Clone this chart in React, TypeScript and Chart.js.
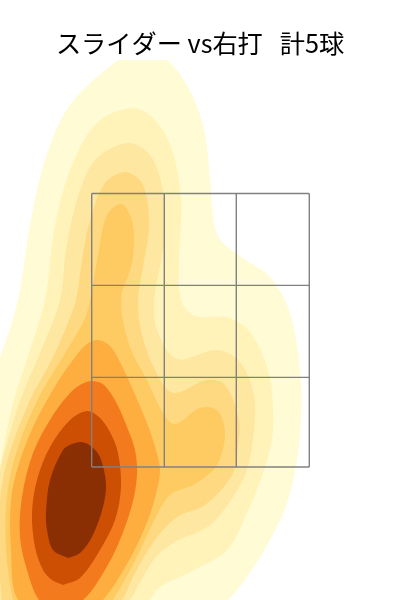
import React, { useEffect, useRef } from "react";
import { Chart, registerables } from "chart.js";

Chart.register(...registerables);

type P = [number, number];

const titleText = "スライダー vs右打   計5球";
const gridXs = [91.7, 164.3, 236.3, 309.3];
const gridYs = [193.4, 285.4, 377.4, 467];

const levelColors = ["#FFFBD4", "#FFF3B9", "#FEE7A0", "#FED981", "#FECB63", "#FEAE3F", "#F47B1D", "#CD4F04", "#8A2F04"];

const level1: P[] = [[-30, 640], [-30, 430], [0, 357], [18, 300], [30, 225], [45, 160], [70, 105], [118, 60], [142, 50], [167, 60], [188, 87], [203, 125], [210, 177], [212, 207], [219, 238], [243, 258], [268, 275], [285, 300], [295, 333], [301, 383], [301, 417], [297, 460], [287, 503], [270, 540], [247, 577], [228, 600], [200, 625]];
const level2: P[] = [[-20, 640], [-12, 540], [0, 467], [13, 403], [30, 350], [45, 300], [55, 225], [72, 165], [98, 122], [133, 108], [155, 120], [172, 150], [181, 200], [179, 260], [181, 300], [195, 316], [227, 317], [250, 332], [268, 370], [273, 407], [272, 440], [263, 473], [247, 513], [227, 550], [190, 572], [160, 587], [150, 600], [130, 625]];
const level3: P[] = [[-10, 640], [-4, 560], [0, 473], [10, 433], [23, 393], [40, 353], [60, 300], [66, 250], [77, 200], [95, 160], [128, 143], [150, 155], [163, 190], [165, 233], [160, 267], [154, 300], [157, 330], [177, 359], [217, 350], [240, 362], [254, 395], [254, 430], [247, 470], [233, 497], [210, 525], [173, 543], [155, 558], [143, 577], [130, 600], [110, 625]];
const level4: P[] = [[5, 640], [-1, 560], [0, 500], [8, 458], [30, 400], [50, 363], [65, 330], [76, 300], [82, 260], [90, 220], [105, 183], [126, 172], [143, 185], [149, 225], [143, 267], [138, 300], [142, 335], [156, 372], [173, 393], [207, 380], [225, 385], [239, 420], [238, 445], [232, 475], [205, 505], [177, 517], [155, 540], [133, 577], [122, 600], [100, 625]];
const level5: P[] = [[25, 640], [13, 600], [6, 550], [7, 495], [18, 447], [40, 395], [67, 350], [85, 318], [91, 295], [98, 255], [107, 215], [122, 204], [133, 225], [132, 263], [121, 300], [130, 347], [147, 380], [163, 413], [175, 424], [200, 408], [217, 410], [225, 433], [217, 465], [195, 484], [170, 495], [153, 523], [137, 557], [113, 600], [95, 625]];
const level6: P[] = [[60, 630], [18, 600], [11, 550], [11, 500], [18, 467], [33, 427], [57, 383], [76, 356], [87, 344], [98, 340], [110, 346], [120, 362], [130, 383], [147, 423], [156, 450], [160, 470], [157, 490], [148, 520], [133, 553], [113, 587], [103, 600], [85, 622]];
const level7: P[] = [[60, 616], [39, 600], [27, 570], [20, 537], [22, 497], [33, 453], [53, 415], [72, 391], [84, 383], [93, 381], [104, 385], [116, 402], [127, 427], [135, 450], [137, 475], [132, 505], [117, 547], [97, 583], [83, 600]];
const level8: P[] = [[63, 585], [52, 580], [43, 570], [35, 547], [32, 513], [37, 480], [50, 447], [70, 420], [87, 411], [99, 417], [110, 432], [118, 453], [121, 487], [115, 520], [100, 550], [80, 578]];
const level9: P[] = [[68, 558], [53, 550], [47, 530], [46, 513], [50, 480], [63, 450], [72, 444], [82, 442], [92, 447], [100, 457], [106, 483], [103, 507], [92, 537], [80, 553]];

const contours = [level1, level2, level3, level4, level5, level6, level7, level8, level9];

export default function App() {
  const ref = useRef<HTMLCanvasElement>(null);
  useEffect(() => {
    const contourSets = contours.map((pts, i) => ({
      data: [...pts, pts[0]].map(([x, y]) => ({ x, y })),
      showLine: true,
      fill: "shape",
      backgroundColor: levelColors[i],
      borderWidth: 0,
      borderColor: "transparent",
      pointRadius: 0,
      tension: 0.33,
      order: 100 - i,
    }));
    const gridStyle = { showLine: true, fill: false, borderColor: "#808080", borderWidth: 1.4, pointRadius: 0, tension: 0, order: 1 };
    const vertical = gridXs.map((x) => ({ ...gridStyle, data: [{ x, y: gridYs[0] }, { x, y: gridYs[3] }] }));
    const horizontal = gridYs.map((y) => ({ ...gridStyle, data: [{ x: gridXs[0], y }, { x: gridXs[3], y }] }));
    const chart = new Chart(ref.current!, {
      type: "scatter",
      data: { datasets: [...contourSets, ...vertical, ...horizontal] as any },
      options: {
        animation: false,
        responsive: false,
        layout: { padding: 0 },
        plugins: {
          legend: { display: false },
          tooltip: { enabled: false },
          title: {
            display: true,
            text: titleText,
            color: "#000000",
            font: { family: "'Noto Sans CJK JP'", size: 25.2, weight: "normal", lineHeight: 1.2 },
            padding: { top: 28, bottom: 1.8 },
          },
        },
        scales: {
          x: { type: "linear", min: 0, max: 400, display: false },
          y: { type: "linear", min: 60, max: 600, reverse: true, display: false },
        },
      },
    });
    return () => chart.destroy();
  }, []);
  return <canvas ref={ref} width={400} height={600} style={{ position: "absolute", left: 0, top: 0, display: "block" }} />;
}
